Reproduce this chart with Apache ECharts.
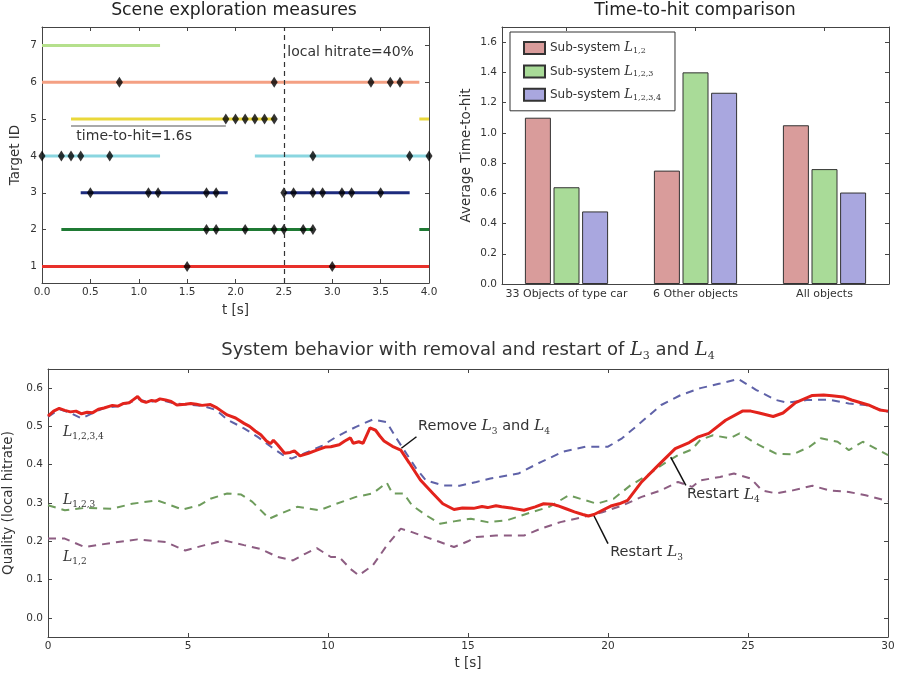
<!doctype html>
<html lang="en">
<head>
<meta charset="UTF-8">
<title>Scene exploration / time-to-hit / system behavior</title>
<script src="https://cdn.jsdelivr.net/npm/echarts@6/dist/echarts.min.js"></script>
<style>
    html, body { margin: 0; padding: 0; background: #fff; }
    #chart { width: 898px; height: 677px; }
</style>
</head>
<body>
<div id="chart"></div>
<script>
/* ---------- data: scene exploration (top left) ---------- */
const targetIds = [1, 2, 3, 4, 5, 6, 7];
const targetColors = ['#e8302a', '#1f7a34', '#1d2b7d', '#8ad6e0', '#ead83a', '#f4a083', '#b5e08c'];
const targetSegments = [
    [[0.0, 4.0]],
    [[0.2, 2.8], [3.9, 4.0]],
    [[0.4, 1.92], [2.5, 3.8]],
    [[0.0, 1.22], [2.2, 4.0]],
    [[0.3, 2.4], [3.9, 4.0]],
    [[0.0, 3.9]],
    [[0.0, 1.22]]
];
const targetHits = [
    [1.5, 3.0],
    [1.7, 1.8, 2.1, 2.4, 2.5, 2.7, 2.8],
    [0.5, 1.1, 1.2, 1.7, 1.8, 2.5, 2.6, 2.8, 2.9, 3.1, 3.2, 3.5],
    [0.0, 0.2, 0.3, 0.4, 0.7, 2.8, 3.8, 4.0],
    [1.9, 2.0, 2.1, 2.2, 2.3, 2.4],
    [0.8, 2.4, 3.4, 3.6, 3.7],
    []
];
const timeToHitSpan = [0.3, 1.9];
const timeToHitLevel = 4.81;
const windowEnd = 2.5;
const sceneTimeTicks = [0, 0.5, 1, 1.5, 2, 2.5, 3, 3.5, 4];
const targetTicks = [1, 2, 3, 4, 5, 6, 7];

/* ---------- data: time-to-hit comparison (top right) ---------- */
const barCategories = ['33 Objects of type car', '6 Other objects', 'All objects'];
const subsystems = ['1,2', '1,2,3', '1,2,3,4'];
const hitL12 = [1.10, 0.75, 1.05];
const hitL123 = [0.64, 1.40, 0.76];
const hitL1234 = [0.48, 1.265, 0.605];
const barColors = ['#d99c9b', '#a9db98', '#a9a7df'];
const hitTicks = [0, 0.2, 0.4, 0.6, 0.8, 1.0, 1.2, 1.4, 1.6];

/* ---------- data: system behavior (bottom) ---------- */
const qualityRed = [
    [0, 0.527], [0.2, 0.54], [0.4, 0.547], [0.6, 0.542], [0.8, 0.538], [1.0, 0.54], [1.2, 0.533], [1.4, 0.537],
    [1.6, 0.536], [1.8, 0.545], [2.0, 0.548], [2.3, 0.555], [2.5, 0.553], [2.7, 0.56], [2.9, 0.562], [3.05, 0.57],
    [3.2, 0.578], [3.35, 0.566], [3.5, 0.563], [3.7, 0.568], [3.85, 0.566], [4.0, 0.572], [4.2, 0.569], [4.4, 0.565],
    [4.6, 0.556], [4.9, 0.558], [5.1, 0.56], [5.3, 0.558], [5.5, 0.555], [5.8, 0.557], [6.0, 0.55], [6.2, 0.54],
    [6.4, 0.53], [6.7, 0.522], [7.0, 0.508], [7.2, 0.5], [7.4, 0.488], [7.6, 0.478], [7.8, 0.462], [7.95, 0.455],
    [8.05, 0.464], [8.2, 0.452], [8.45, 0.43], [8.65, 0.432], [8.8, 0.436], [9.0, 0.423], [9.3, 0.43], [9.6, 0.438],
    [9.9, 0.446], [10.1, 0.447], [10.4, 0.452], [10.6, 0.462], [10.8, 0.47], [10.9, 0.456], [11.1, 0.46], [11.25, 0.456],
    [11.4, 0.48], [11.5, 0.496], [11.7, 0.49], [11.85, 0.475], [12.0, 0.462], [12.3, 0.448], [12.6, 0.438], [12.9, 0.405],
    [13.3, 0.36], [13.75, 0.325], [14.1, 0.298], [14.5, 0.283], [14.8, 0.287], [15.2, 0.286], [15.5, 0.291], [15.7, 0.288],
    [16.0, 0.293], [16.2, 0.29], [16.6, 0.286], [17.0, 0.281], [17.4, 0.29], [17.7, 0.298], [18.0, 0.297], [18.2, 0.293],
    [18.5, 0.285], [18.8, 0.277], [19.1, 0.27], [19.3, 0.266], [19.5, 0.27], [19.8, 0.281], [20.1, 0.292], [20.4, 0.298],
    [20.7, 0.307], [21.2, 0.355], [21.8, 0.399], [22.4, 0.442], [22.9, 0.458], [23.2, 0.472], [23.6, 0.482], [24.2, 0.516],
    [24.8, 0.54], [25.1, 0.54], [25.4, 0.535], [25.9, 0.526], [26.25, 0.535], [26.7, 0.562], [27.3, 0.581], [27.7, 0.582],
    [28.0, 0.58], [28.4, 0.577], [28.7, 0.569], [29.3, 0.556], [29.7, 0.543], [30.0, 0.54]
];
const qualityL1234 = [
    [0, 0.525], [0.4, 0.545], [0.8, 0.535], [1.2, 0.521], [1.6, 0.535], [2.0, 0.548], [2.5, 0.553], [3.0, 0.565],
    [3.2, 0.572], [3.6, 0.563], [4.0, 0.57], [4.5, 0.56], [5.0, 0.557], [5.5, 0.554], [6.0, 0.543], [6.4, 0.518],
    [7.0, 0.495], [7.5, 0.472], [8.0, 0.445], [8.4, 0.425], [8.7, 0.416], [9.3, 0.434], [9.8, 0.45], [10.3, 0.473],
    [11.0, 0.499], [11.6, 0.518], [12.1, 0.511], [12.4, 0.474], [12.8, 0.429], [13.15, 0.39], [13.5, 0.359], [14.1, 0.346],
    [14.7, 0.345], [15.3, 0.355], [15.8, 0.364], [16.8, 0.377], [17.6, 0.407], [18.4, 0.434], [19.2, 0.447], [20.0, 0.447],
    [20.5, 0.469], [21.2, 0.512], [21.9, 0.556], [22.6, 0.582], [23.3, 0.6], [24.0, 0.612], [24.65, 0.624], [25.3, 0.595],
    [26.0, 0.569], [26.4, 0.562], [27.1, 0.569], [27.9, 0.57], [28.6, 0.56], [29.2, 0.556], [30, 0.538]
];
const qualityL123 = [
    [0, 0.294], [0.6, 0.281], [1.3, 0.287], [2.3, 0.285], [3.0, 0.298], [3.9, 0.307], [4.8, 0.283], [5.4, 0.294],
    [5.8, 0.311], [6.4, 0.325], [6.9, 0.322], [7.3, 0.303], [7.9, 0.259], [8.3, 0.272], [8.9, 0.29], [9.2, 0.287],
    [9.7, 0.281], [10.3, 0.298], [11.0, 0.316], [11.6, 0.325], [12.1, 0.353], [12.3, 0.325], [12.7, 0.325], [13.0, 0.294],
    [13.5, 0.268], [14.0, 0.246], [14.5, 0.252], [15.1, 0.259], [15.7, 0.25], [16.4, 0.255], [17.1, 0.272], [17.9, 0.29],
    [18.6, 0.32], [19.2, 0.307], [19.6, 0.298], [20.2, 0.311], [20.8, 0.346], [21.4, 0.372], [22.0, 0.403], [22.5, 0.425],
    [23.0, 0.44], [23.3, 0.465], [23.75, 0.477], [24.35, 0.469], [24.7, 0.482], [25.3, 0.455], [26.0, 0.429], [26.6, 0.427],
    [27.2, 0.447], [27.6, 0.469], [28.2, 0.46], [28.6, 0.438], [29.1, 0.46], [30, 0.425]
];
const qualityL12 = [
    [0, 0.207], [0.6, 0.207], [1.3, 0.185], [2.3, 0.196], [3.2, 0.205], [4.2, 0.198], [4.9, 0.176], [5.6, 0.19],
    [6.3, 0.202], [7.0, 0.19], [7.6, 0.18], [8.2, 0.159], [8.75, 0.15], [9.2, 0.168], [9.6, 0.182], [10.1, 0.159],
    [10.4, 0.159], [10.8, 0.128], [11.1, 0.111], [11.6, 0.137], [12.1, 0.189], [12.6, 0.233], [13.0, 0.224], [13.5, 0.211],
    [14.0, 0.198], [14.5, 0.185], [15.0, 0.2], [15.3, 0.211], [16.0, 0.215], [17.0, 0.215], [17.6, 0.233], [18.3, 0.25],
    [19.1, 0.263], [19.8, 0.276], [20.5, 0.293], [21.2, 0.316], [21.9, 0.333], [22.5, 0.355], [23.0, 0.342], [23.3, 0.359],
    [24.0, 0.368], [24.5, 0.377], [25.1, 0.364], [25.5, 0.333], [26.0, 0.325], [26.6, 0.333], [27.3, 0.345], [27.9, 0.333],
    [28.6, 0.329], [29.2, 0.32], [30, 0.305]
];
const secondsTicks = [0, 5, 10, 15, 20, 25, 30];
const qualityTicks = [0, 0.1, 0.2, 0.3, 0.4, 0.5, 0.6];

/* annotations: [text anchor], [leader from], [leader to] */
const noteRemove = [[13.2, 0.5], [13.16, 0.473], [12.62, 0.443]];
const noteRestart4 = [[22.8, 0.322], [22.78, 0.346], [22.24, 0.42]];
const noteRestart3 = [[20.06, 0.172], [20.0, 0.194], [19.49, 0.268]];

/* ---------- styles ---------- */
const FONT = 'DejaVu Sans';
const TXT = '#333';
const FRAME = '#444';

/* rich styles for "L" with a subscript */
function richL(size, subSize, lineHeight) {
    return {
        n: {fontFamily: FONT, fontSize: size, fontWeight: 'normal', color: TXT, lineHeight: lineHeight, verticalAlign: 'middle'},
        i: {fontFamily: 'DejaVu Serif', fontStyle: 'italic', fontWeight: 'normal', fontSize: size + 1, color: TXT, lineHeight: lineHeight, verticalAlign: 'middle'},
        s: {fontFamily: 'DejaVu Serif', fontWeight: 'normal', fontSize: subSize, color: TXT, lineHeight: Math.round(subSize * 0.75), verticalAlign: 'bottom'}
    };
}

function valueAxis(gridIndex, position, min, max, ticks, digits, withLabels, name, nameGap) {
    let axis = {
        type: 'value',
        gridIndex: gridIndex,
        position: position,
        min: min,
        max: max,
        axisLine: {show: true, onZero: false, lineStyle: {color: FRAME, width: 1}},
        axisTick: {show: true, inside: true, length: 4, customValues: ticks, lineStyle: {color: FRAME}},
        axisLabel: {
            show: withLabels,
            customValues: ticks,
            formatter: function (v) { return v.toFixed(digits); },
            color: TXT, fontSize: 10.5, fontFamily: FONT,
            margin: (position === 'left') ? 5 : 4
        },
        splitLine: {show: false}
    };
    if (name) {
        axis.name = name;
        axis.nameLocation = 'middle';
        axis.nameGap = nameGap;
        axis.nameTextStyle = {fontFamily: FONT, fontSize: 13.5, color: TXT};
        if (position === 'left') axis.nameRotate = 90;
    }
    return axis;
}

function categoryAxis(position, withLabels) {
    return {
        type: 'category',
        gridIndex: 1,
        position: position,
        data: barCategories,
        axisLine: {show: true, onZero: false, lineStyle: {color: FRAME, width: 1}},
        axisTick: {show: true, inside: true, length: 4, alignWithLabel: true, lineStyle: {color: FRAME}},
        axisLabel: {show: withLabels, interval: 0, color: TXT, fontSize: 11, fontFamily: FONT, margin: 5},
        splitLine: {show: false}
    };
}

let chart = echarts.init(document.getElementById('chart'));

/* ---------- series ---------- */
let series = [];

/* 1. target tracks */
targetIds.forEach(function (id, i) {
    targetSegments[i].forEach(function (seg, k) {
        series.push({
            id: 'target-' + id + '-' + k,
            type: 'line',
            xAxisIndex: 0, yAxisIndex: 0,
            data: [[seg[0], id], [seg[1], id]],
            symbol: 'none',
            lineStyle: {color: targetColors[i], width: 3},
            z: 2
        });
    });
});

/* hits */
targetIds.forEach(function (id, i) {
    if (!targetHits[i].length) return;
    series.push({
        type: 'scatter',
        xAxisIndex: 0, yAxisIndex: 0,
        data: targetHits[i].map(function (t) { return [t, id]; }),
        symbol: 'diamond',
        symbolSize: [7, 11],
        itemStyle: {color: '#000'},
        z: 4
    });
});

/* time-to-hit bracket + local window */
series.push({
    id: 'time-to-hit',
    type: 'line',
    xAxisIndex: 0, yAxisIndex: 0,
    data: [[timeToHitSpan[0], timeToHitLevel], [timeToHitSpan[1], timeToHitLevel]],
    symbol: 'none',
    lineStyle: {color: '#8c8c8c', width: 1.5},
    z: 3,
    markLine: {
        silent: true,
        symbol: 'none',
        label: {show: false},
        lineStyle: {color: '#333', type: [5, 4], width: 1.2},
        data: [{xAxis: windowEnd}]
    },
    markPoint: {
        symbol: 'circle', symbolSize: 1,
        itemStyle: {color: 'rgba(0,0,0,0)'},
        label: {show: true, position: 'right', distance: 0, color: TXT, fontSize: 14, fontFamily: FONT},
        data: [
            {coord: [2.53, 6.8], label: {formatter: 'local hitrate=40%'}},
            {coord: [0.35, 4.54], label: {formatter: 'time-to-hit=1.6s'}}
        ]
    }
});

/* 2. bars */
[hitL12, hitL123, hitL1234].forEach(function (vals, k) {
    series.push({
        name: 'Sub-system L' + subsystems[k],
        type: 'bar',
        xAxisIndex: 2, yAxisIndex: 2,
        data: vals,
        barWidth: 26,
        barGap: '10%',
        itemStyle: {color: barColors[k], borderColor: '#333', borderWidth: 1}
    });
});

/* 3. quality lines */
[[qualityL12, '#8d5d82'], [qualityL123, '#6e9c5c'], [qualityL1234, '#5f62a8']].forEach(function (s) {
    series.push({
        type: 'line',
        xAxisIndex: 4, yAxisIndex: 4,
        data: s[0],
        symbol: 'none',
        lineStyle: {color: s[1], width: 2, type: [8, 6]},
        z: 2
    });
});

series.push({
    id: 'quality-red',
    type: 'line',
    xAxisIndex: 4, yAxisIndex: 4,
    data: qualityRed,
    symbol: 'none',
    lineStyle: {color: '#e3231c', width: 3},
    z: 5,
    markLine: {
        silent: true,
        symbol: 'none',
        label: {show: false},
        lineStyle: {color: '#111', type: 'solid', width: 1.5},
        data: [noteRemove, noteRestart4, noteRestart3].map(function (n) {
            return [{coord: n[1]}, {coord: n[2]}];
        })
    },
    markPoint: {
        symbol: 'circle', symbolSize: 1,
        itemStyle: {color: 'rgba(0,0,0,0)'},
        label: {show: true, position: 'right', distance: 0},
        data: [
            {coord: noteRemove[0], label: {formatter: '{n|Remove }{i|L}{s|3}{n| and }{i|L}{s|4}', rich: richL(14.5, 9, 20)}},
            {coord: noteRestart4[0], label: {formatter: '{n|Restart }{i|L}{s|4}', rich: richL(14.5, 9, 20)}},
            {coord: noteRestart3[0], label: {formatter: '{n|Restart }{i|L}{s|3}', rich: richL(14.5, 9, 20)}},
            {coord: [0.52, 0.485], label: {formatter: '{i|L}{s|1,2,3,4}', rich: richL(13, 9, 18)}},
            {coord: [0.52, 0.307], label: {formatter: '{i|L}{s|1,2,3}', rich: richL(13, 9, 18)}},
            {coord: [0.52, 0.159], label: {formatter: '{i|L}{s|1,2}', rich: richL(13, 9, 18)}}
        ]
    }
});

/* ---------- option ---------- */
let option = {
    animation: false,
    backgroundColor: '#fff',
    title: [
        {
            text: 'Scene exploration measures', left: 234, top: 2, textAlign: 'center', padding: 0,
            textStyle: {fontFamily: FONT, fontSize: 17.3, fontWeight: 'normal', color: '#222'}
        }, {
            text: 'Time-to-hit comparison', left: 695, top: 2, textAlign: 'center', padding: 0,
            textStyle: {fontFamily: FONT, fontSize: 17.3, fontWeight: 'normal', color: '#222'}
        }, {
            text: '{n|System behavior with removal and restart of }{i|L}{s|3}{n| and }{i|L}{s|4}',
            left: 468, top: 338, textAlign: 'center', padding: 0,
            textStyle: {fontWeight: 'normal', rich: richL(18, 11, 24)}
        }
    ],
    legend: {
        data: subsystems.map(function (s) { return 'Sub-system L' + s; }),
        orient: 'vertical',
        left: 510, top: 32,
        icon: 'rect',
        itemWidth: 21, itemHeight: 12, itemGap: 9.4,
        padding: [9, 14, 9, 13],
        borderColor: '#333', borderWidth: 1, borderRadius: 0,
        backgroundColor: '#fff',
        selectedMode: false,
        formatter: function (name) { return '{n|Sub-system }{i|L}{s|' + name.slice(12) + '}'; },
        textStyle: {rich: richL(12, 8, 14)}
    },
    grid: [
        {left: 42, top: 27, width: 387, height: 256, outerBoundsMode: 'none', containLabel: false},
        {left: 502, top: 27, width: 387, height: 257, outerBoundsMode: 'none', containLabel: false},
        {left: 48, top: 369, width: 840, height: 268, outerBoundsMode: 'none', containLabel: false}
    ],
    xAxis: [
        valueAxis(0, 'bottom', 0, 4, sceneTimeTicks, 1, true, 't [s]', 20),
        valueAxis(0, 'top', 0, 4, sceneTimeTicks, 1, false),
        categoryAxis('bottom', true),
        categoryAxis('top', false),
        valueAxis(2, 'bottom', 0, 30, secondsTicks, 0, true, 't [s]', 19),
        valueAxis(2, 'top', 0, 30, secondsTicks, 0, false)
    ],
    yAxis: [
        valueAxis(0, 'left', 0.55, 7.5, targetTicks, 0, true, 'Target ID', 20),
        valueAxis(0, 'right', 0.55, 7.5, targetTicks, 0, false),
        valueAxis(1, 'left', 0, 1.7, hitTicks, 1, true, 'Average Time-to-hit', 29),
        valueAxis(1, 'right', 0, 1.7, hitTicks, 1, false),
        valueAxis(2, 'left', -0.05, 0.65, qualityTicks, 1, true, 'Quality (local hitrate)', 31),
        valueAxis(2, 'right', -0.05, 0.65, qualityTicks, 1, false)
    ],
    series: series
};

chart.setOption(option);
window.addEventListener('resize', chart.resize);
</script>
</body>
</html>
